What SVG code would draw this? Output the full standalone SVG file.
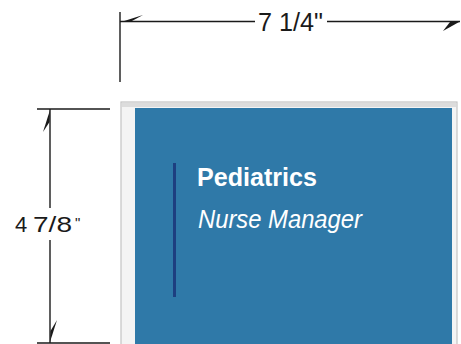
<svg xmlns="http://www.w3.org/2000/svg" width="461" height="344" viewBox="0 0 461 344">
<style>
.dim{stroke:#1a1a1a;stroke-width:1.4;fill:none}
.dimtxt{font-family:"Liberation Sans",Arial,sans-serif;fill:#1a1a1a}
.ah{fill:#1a1a1a}
</style>
<rect width="461" height="344" fill="#ffffff"/>
<g id="card">
<rect x="121" y="102" width="336" height="250" fill="#f4f4f4" stroke="#c4c4c4" stroke-width="1.2"/>
<rect x="122" y="103" width="334" height="4" fill="#dcdcdc"/>
<rect x="135" y="108" width="317" height="240" fill="#2f79a8"/>
<line x1="174.5" y1="163" x2="174.5" y2="297" stroke="#1d3f80" stroke-width="3"/>
<text x="197" y="185.5" font-family="'Liberation Sans',Arial,sans-serif" font-weight="bold" font-size="26" fill="#ffffff" textLength="120" lengthAdjust="spacingAndGlyphs">Pediatrics</text>
<text x="198" y="228.3" font-family="'Liberation Sans',Arial,sans-serif" font-style="italic" font-size="25" fill="#ffffff" textLength="164" lengthAdjust="spacingAndGlyphs">Nurse Manager</text>
</g>
<g id="connectors">
<line class="dim" x1="120" y1="12" x2="120" y2="82"/>
<line class="dim" x1="120" y1="21.5" x2="255" y2="21.5"/>
<line class="dim" x1="327" y1="21.5" x2="460" y2="21.5"/>
<path class="ah" d="M121,22 L143,15 L131,21.5 Z"/>
<path class="ah" d="M460,21.5 L443,31 L450,22 Z"/>
<line class="dim" x1="37" y1="109" x2="110" y2="109"/>
<line class="dim" x1="37" y1="343" x2="110" y2="343"/>
<line class="dim" x1="50" y1="109" x2="50" y2="208"/>
<line class="dim" x1="50" y1="240" x2="50" y2="343"/>
<path class="ah" d="M50,110 L43,132 L49.5,122 Z"/>
<path class="ah" d="M50,342 L57,320 L50.5,331 Z"/>
</g>
<g id="labels">
<text class="dimtxt" x="258" y="31" font-size="26" textLength="65" lengthAdjust="spacingAndGlyphs">7 1/4"</text>
<text class="dimtxt" y="232" font-size="22"><tspan x="15">4</tspan><tspan x="33" textLength="39" lengthAdjust="spacingAndGlyphs">7/8</tspan><tspan x="75" y="228" font-size="15">"</tspan></text>
</g>
</svg>
